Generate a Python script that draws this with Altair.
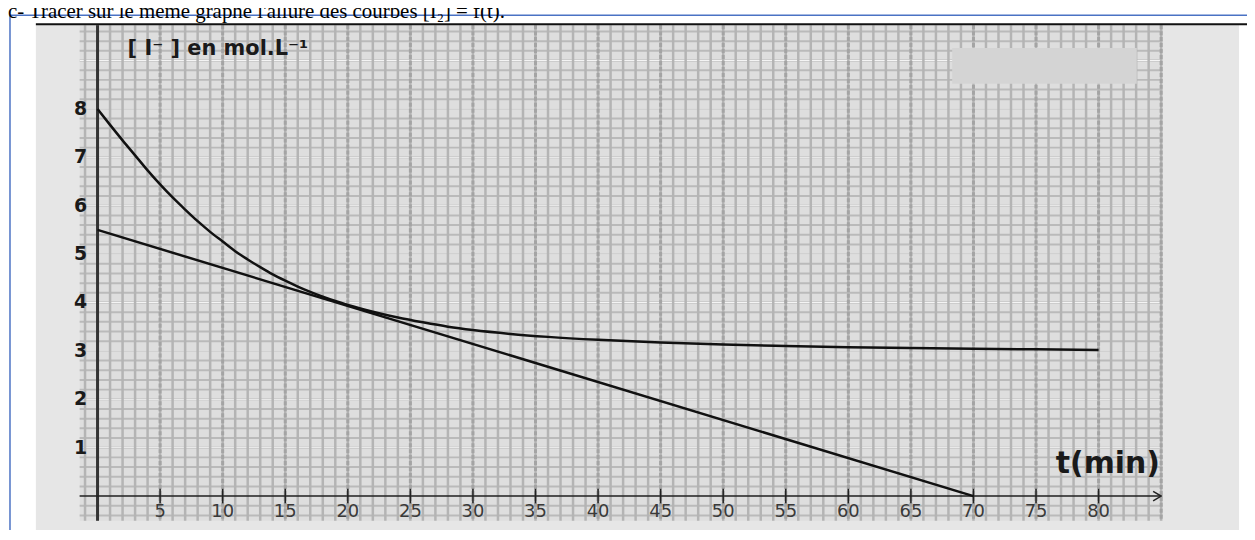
import altair as alt
import pandas as pd
import numpy as np

# ---- data ----
t_curve = [0, 1, 2, 3, 4, 5, 6, 7, 8, 9, 10, 11, 12, 13, 14, 15, 16, 17, 18, 19, 20,
           22, 24, 26, 28, 30, 33, 36, 40, 45, 50, 55, 60, 65, 70, 75, 80]
c_curve = [8.0, 7.67, 7.35, 7.04, 6.73, 6.44, 6.17, 5.92, 5.68, 5.46, 5.26, 5.06, 4.89,
           4.73, 4.58, 4.45, 4.33, 4.22, 4.12, 4.03, 3.95, 3.81, 3.69, 3.59, 3.5, 3.43,
           3.35, 3.29, 3.23, 3.175, 3.13, 3.1, 3.075, 3.06, 3.045, 3.032, 3.02]
t_tangent = [0, 70]
c_tangent = [5.5, 0]
x_tick_values = [5, 10, 15, 20, 25, 30, 35, 40, 45, 50, 55, 60, 65, 70, 75, 80]
y_tick_values = [1, 2, 3, 4, 5, 6, 7, 8]
header = "c- Tracer sur le même graphe l'allure des courbes [I\u2082] = f(t)."
y_title = "[ I\u207b ] en  mol.L\u207b\u00b9"
x_title = "t(min)"

W, H = 1088, 498
xs = alt.Scale(domain=[-1.43, 85.1], nice=False, zero=False)
ys = alt.Scale(domain=[-0.51, 9.73], nice=False, zero=False)

def X(f):
    return alt.X(f, type="quantitative", scale=xs, axis=None)

def Y(f):
    return alt.Y(f, type="quantitative", scale=ys, axis=None)

one = pd.DataFrame({"a": [0]})

# frame decorations
bg = alt.Chart(one).mark_rect(color="#e6e6e6").encode(
    x=alt.value(-44), x2=alt.value(1165), y=alt.value(-1), y2=alt.value(520))
gridfill = alt.Chart(one).mark_rect(color="#dedede").encode(
    x=alt.value(0), x2=alt.value(W), y=alt.value(0), y2=alt.value(H))
topblack = alt.Chart(one).mark_rule(color="#111", strokeWidth=2).encode(
    x=alt.value(-44), x2=alt.value(1175), y=alt.value(-1))
blue_top = alt.Chart(one).mark_rule(color="#4a72c4", strokeWidth=1.5).encode(
    x=alt.value(-70), x2=alt.value(1175), y=alt.value(-10))
blue_left = alt.Chart(one).mark_rule(color="#4a72c4", strokeWidth=1.5).encode(
    x=alt.value(-70), y=alt.value(-10), y2=alt.value(520))
head = alt.Chart(one).mark_text(font="Liberation Serif", fontSize=21, align="left",
                                baseline="alphabetic", color="#000").encode(
    x=alt.value(-72), y=alt.value(-7), text=alt.value(header))

# grid lines
vgrid = pd.DataFrame({"g": np.arange(-1, 86, 1.0)})
vgrid5 = pd.DataFrame({"g": np.arange(0, 86, 5.0)})
hgrid = pd.DataFrame({"g": np.round(np.arange(-0.4, 9.7, 0.2), 2)})
hgridw = pd.DataFrame({"g": np.arange(0, 10, 1.0)})
vg = alt.Chart(vgrid).mark_rule(color="#b4b4b4", strokeWidth=2.5).encode(
    x=X("g"), y=alt.value(0), y2=alt.value(H))
vg5 = alt.Chart(vgrid5).mark_rule(color="#a4a4a4", strokeWidth=3, strokeDash=[4, 2]).encode(
    x=X("g"), y=alt.value(0), y2=alt.value(H))
hg = alt.Chart(hgrid).mark_rule(color="#bababa", strokeWidth=2).encode(
    y=Y("g"), x=alt.value(0), x2=alt.value(W))
hgw = alt.Chart(hgridw).mark_rule(color="#f4f4f4", strokeWidth=1).encode(
    y=Y("g"), x=alt.value(0), x2=alt.value(W))

# axes
yaxis = alt.Chart(pd.DataFrame({"x": [0], "y1": [-0.51], "y2": [9.73]})).mark_rule(
    color="#333", strokeWidth=3).encode(x=X("x"), y=Y("y1"), y2="y2")
xaxis = alt.Chart(pd.DataFrame({"y": [0], "x1": [-1.43], "x2": [85.0]})).mark_rule(
    color="#222", strokeWidth=1.5).encode(y=Y("y"), x=X("x1"), x2="x2")
arrow = alt.Chart(pd.DataFrame({"x": [85.0], "y": [0]})).mark_point(
    shape="M -1 -0.6 L 0 0 L -1 0.6", filled=False, color="#222", size=260,
    strokeWidth=1.5, opacity=1).encode(x=X("x"), y=Y("y"))
xt = pd.DataFrame({"t": x_tick_values, "lo": -0.15, "hi": 0.15,
                   "lab": [str(v) for v in x_tick_values], "ly": -0.33})
xticks = alt.Chart(xt).mark_rule(color="#222", strokeWidth=1.5).encode(
    x=X("t"), y=Y("lo"), y2="hi")
xlabels = alt.Chart(xt).mark_text(font="DejaVu Sans", fontSize=18, color="#3a3a3a",
                                  baseline="middle").encode(x=X("t"), y=Y("ly"), text="lab:N")
yt = pd.DataFrame({"v": y_tick_values, "lx": -1.35, "lab": [str(v) for v in y_tick_values]})
ylabels = alt.Chart(yt).mark_text(font="DejaVu Sans", fontSize=19, fontWeight="bold",
                                  color="#1a1a1a", baseline="middle").encode(
    x=X("lx"), y=Y("v"), text="lab:N")

# curves
curve = alt.Chart(pd.DataFrame({"t": t_curve, "c": c_curve})).mark_line(
    color="#111", strokeWidth=2.5, interpolate="monotone").encode(x=X("t"), y=Y("c"))
tangent = alt.Chart(pd.DataFrame({"t": t_tangent, "c": c_tangent})).mark_line(
    color="#111", strokeWidth=2.5).encode(x=X("t"), y=Y("c"))

# titles
ttl = alt.Chart(pd.DataFrame({"x": [2.4], "y": [9.24], "s": [y_title]})).mark_text(
    font="DejaVu Sans", fontSize=21, fontWeight="bold", color="#1a1a1a", align="left",
    baseline="middle").encode(x=X("x"), y=Y("y"), text="s:N")
xttl = alt.Chart(pd.DataFrame({"x": [84.9], "y": [0.66], "s": [x_title]})).mark_text(
    font="DejaVu Sans", fontSize=30, fontWeight="bold", color="#1a1a1a", align="right",
    baseline="middle").encode(x=X("x"), y=Y("y"), text="s:N")
blank = alt.Chart(pd.DataFrame({"x1": [68.3], "x2": [83.05], "y1": [8.52], "y2": [9.26]})).mark_rect(
    color="#d4d4d4").encode(x=X("x1"), x2="x2", y=Y("y1"), y2="y2")

chart = alt.layer(
    bg, gridfill, hg, hgw, vg, vg5, blank, yaxis, xaxis, arrow, xticks, xlabels, ylabels,
    curve, tangent, ttl, xttl, topblack, blue_top, blue_left, head
).properties(
    width=W, height=H,
    padding={"left": 72, "top": 16, "right": 85, "bottom": 8},
    autosize=alt.AutoSizeParams(type="none"),
    background="white"
).configure_view(stroke=None)

chart.save("out.html", embed_options={"renderer": "svg", "actions": False})
